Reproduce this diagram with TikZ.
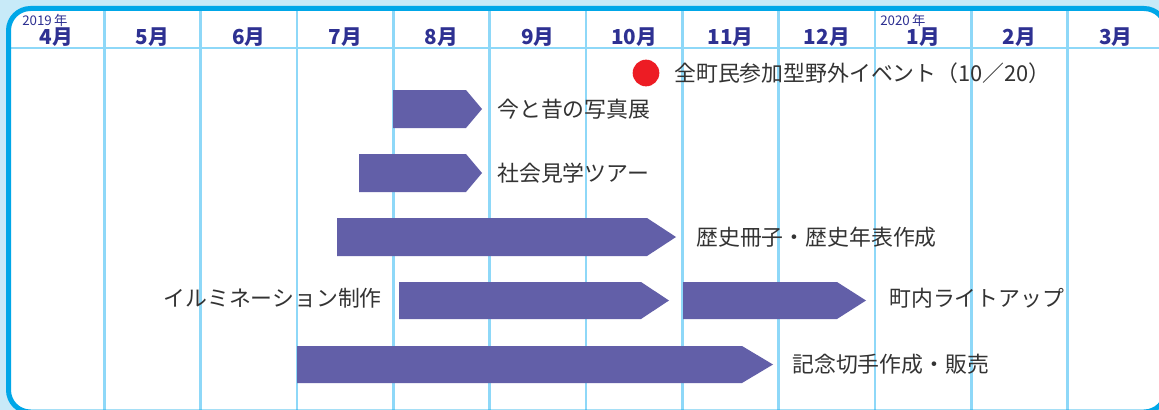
\documentclass[tikz,border=0pt]{standalone}
\usepackage{fontspec}
\newfontfamily\jpfont{Noto Sans CJK JP}
\usetikzlibrary{positioning}

\definecolor{skyback}{HTML}{C8EAF8}
\definecolor{framecol}{HTML}{00A7E8}
\definecolor{gridcol}{HTML}{8ED8F8}
\definecolor{barcol}{HTML}{625FA8}
\definecolor{monthcol}{HTML}{2E3192}
\definecolor{taskcol}{HTML}{333333}
\definecolor{dotcol}{HTML}{ED1C24}

\tikzstyle{month}    = [text=monthcol,font=\jpfont\bfseries\fontsize{15.5}{15.5}\selectfont,inner sep=0pt]
\tikzstyle{year}     = [text=monthcol,font=\jpfont\fontsize{10}{10}\selectfont,inner sep=0pt,anchor=west]
\tikzstyle{task}     = [text=taskcol,font=\jpfont\fontsize{16.4}{16.4}\selectfont,inner sep=0pt,anchor=west]
\tikzstyle{gridline} = [draw=gridcol,line width=2.2pt]
\tikzstyle{bar}      = [fill=barcol]

\begin{document}
\begin{tikzpicture}[x=0.75pt,y=-0.75pt]
			\useasboundingbox (0,0) rectangle (1159,410);
			\fill[skyback] (0,0) rectangle (1159,410);
			\fill[white,rounded corners=16.5pt] (8.5,8.5) rectangle (1166,412);
			
			% month grid
			\foreach \k in {1,...,11}
				\draw[gridline] ({8+96.33*\k},10) -- ({8+96.33*\k},412);
			\draw[gridline] (10,48) -- (1163,48);
			\foreach \m [count=\k from 0] in {4,...,12,1,2,3}
				\node[month] (m\k) at ({56.2+96.33*\k},37) {\m 月};
			\node[year] (y2019) at (22,20) {2019\,年};
			\node[year] (y2020) at (880,20) {2020\,年};
			
			% event
			\node[circle,fill=dotcol,minimum size=20pt,inner sep=0pt](dot) at (646,73){};
			\node[task](event) at (674,73){全町民参加型野外イベント（10／20）};
			
			% bars
			\fill[bar] (393,90) -- (466,90) -- (482,109) -- (466,128) -- (393,128) -- cycle;
			\node[task](photo) at (497,109){今と昔の写真展};
			
			\fill[bar] (359,154) -- (466,154) -- (482,173) -- (466,192) -- (359,192) -- cycle;
			\node[task](tour) at (497,173){社会見学ツアー};
			
			\fill[bar] (337,218) -- (647,218) -- (676,237) -- (647,256) -- (337,256) -- cycle;
			\node[task](book) at (696,237){歴史冊子・歴史年表作成};
			
			\fill[bar] (399,282) -- (641,282) -- (669,300.5) -- (641,319) -- (399,319) -- cycle;
			\node[task,anchor=east](illum) at (382,298){イルミネーション制作};
			\fill[bar] (683,282) -- (837,282) -- (866,300.5) -- (837,319) -- (683,319) -- cycle;
			\node[task](light) at (889,298){町内ライトアップ};
			
			\fill[bar] (297,346) -- (742,346) -- (773,364.5) -- (742,383) -- (297,383) -- cycle;
			\node[task](stamp) at (792,364){記念切手作成・販売};
			
			\draw[draw=framecol,line width=3.75pt,rounded corners=16.5pt] (8.5,8.5) rectangle (1166,412);
\end{tikzpicture}
\end{document}
